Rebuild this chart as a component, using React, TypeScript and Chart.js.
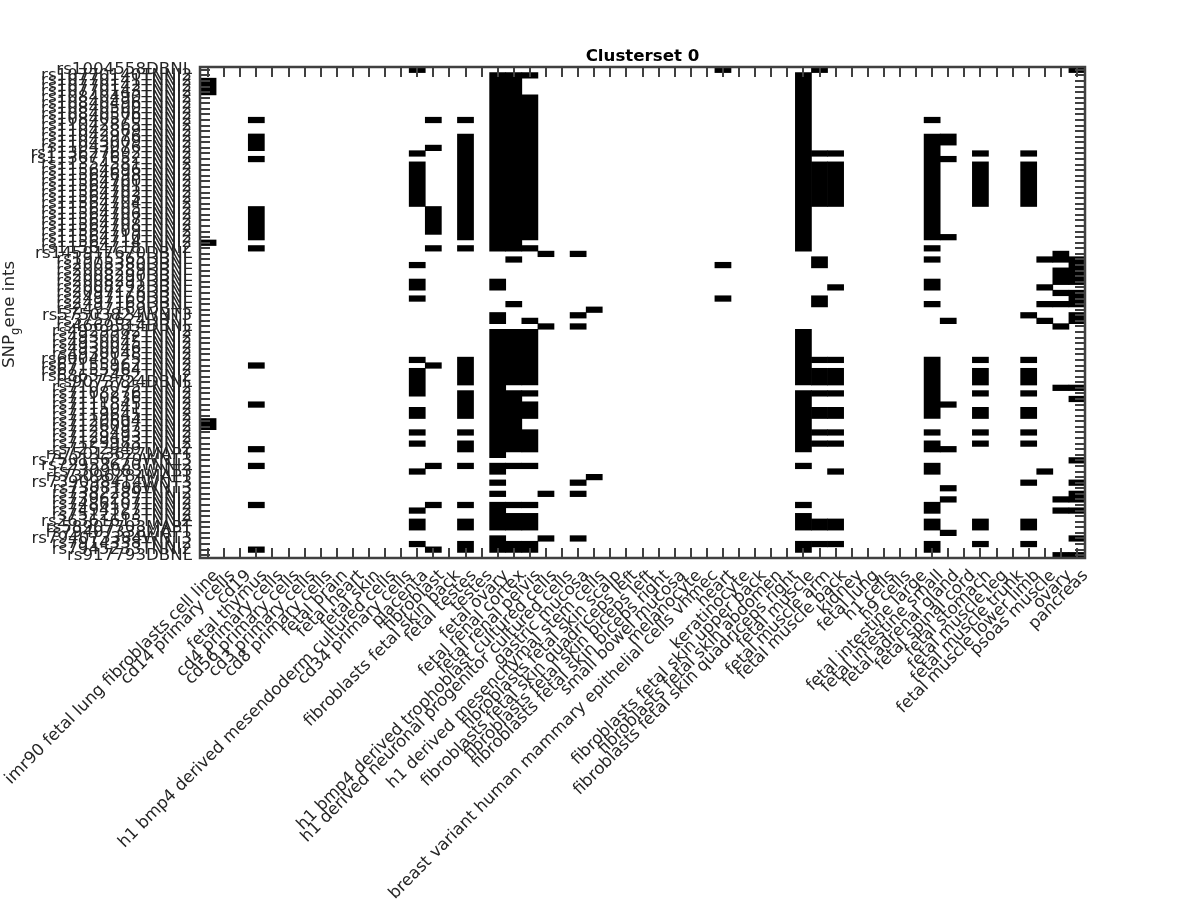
import React, { useEffect, useRef } from "react";
import { Chart, registerables } from "chart.js";

Chart.register(...registerables);

const tissues: string[] = [
  "imr90 fetal lung fibroblasts cell line", "cd14 primary cells", "cd19", "fetal thymus", "cd4 primary cells",
  "cd56 primary cells", "cd3 primary cells", "cd8 primary cells", "fetal brain", "fetal heart", "fetal skin",
  "h1 bmp4 derived mesendoderm cultured cells", "cd34 primary cells", "placenta", "fibroblast",
  "fibroblasts fetal skin back", "fetal testes", "testes", "fetal ovary", "fetal renal cortex", "fetal renal pelvis",
  "h1 bmp4 derived trophoblast cultured cells", "h1 derived neuronal progenitor cultured cells", "gastric mucosa",
  "h1 derived mesenchymal stem cells", "fibroblasts fetal skin scalp", "fibroblasts fetal skin quadriceps left",
  "fibroblasts fetal skin biceps left", "fibroblasts fetal skin biceps right", "small bowel mucosa",
  "melanocyte", "breast variant human mammary epithelial cells vhmec", "heart", "keratinocyte",
  "fibroblasts fetal skin upper back", "fibroblasts fetal skin abdomen", "fibroblasts fetal skin quadriceps right",
  "fetal muscle", "fetal muscle arm", "fetal muscle back", "kidney", "fetal lung", "h1 cells", "h9 cells",
  "fetal intestine large", "fetal intestine small", "fetal adrenal gland", "fetal spinal cord", "fetal stomach",
  "fetal muscle leg", "fetal muscle trunk", "fetal muscle lower limb", "psoas muscle", "ovary", "pancreas",
];

const snpGenes: string[] = [
  "rs1004558DBNL", "rs10770140TNNI2", "rs10770141TNNI2", "rs10770142TNNI2", "rs10770143TNNI2",
  "rs10840490TNNI2", "rs10840496TNNI2", "rs10840500TNNI2", "rs10840506TNNI2", "rs10840570TNNI2",
  "rs11042865TNNI2", "rs11042869TNNI2", "rs11042976TNNI2", "rs11043009TNNI2", "rs11043076TNNI2",
  "rs113627692TNNI2", "rs113677652TNNI2", "rs11354581TNNI2", "rs11564696TNNI2", "rs11564698TNNI2",
  "rs11564700TNNI2", "rs11564701TNNI2", "rs11564702TNNI2", "rs11564703TNNI2", "rs11564704TNNI2",
  "rs11564705TNNI2", "rs11564706TNNI2", "rs11564707TNNI2", "rs11564708TNNI2", "rs11564709TNNI2",
  "rs11564710TNNI2", "rs11564714TNNI2", "rs11564718TNNI2", "rs145917670DBNL", "rs1975365DBNL",
  "rs2005380DBNL", "rs2008289DBNL", "rs2008290DBNL", "rs2008291DBNL", "rs2008292DBNL",
  "rs2097178DBNL", "rs2497160DBNL", "rs2497163DBNL", "rs2497169DBNL", "rs57503824WNT3",
  "rs3757624DBNL", "rs4669514DBNL", "rs4929982TNNI2", "rs4930042TNNI2", "rs4930045TNNI2",
  "rs4930046TNNI2", "rs4930048TNNI2", "rs60048125TNNI2", "rs67155962TNNI2", "rs67155964TNNI2",
  "rs68657482TNNI2", "rs9073724DBNL", "rs7107095TNNI2", "rs7108276TNNI2", "rs7110836TNNI2",
  "rs7111845TNNI2", "rs7115041TNNI2", "rs7119645TNNI2", "rs7120604TNNI2", "rs7126097TNNI2",
  "rs7128493TNNI2", "rs7129493TNNI2", "rs7129983TNNI2", "rs7252949TNNI2", "rs75013627MAPT",
  "rs750136279WNT3", "rs72953620TNNI2", "rs7309083WNT3", "rs73096284MAPT", "rs739098414WNT3",
  "rs7308196WNT3", "rs7382289TNNI2", "rs7396287TNNI2", "rs7486107TNNI2", "rs7494327TNNI2",
  "rs7512163TNNI2", "rs26361615TNNI2", "rs58907703MAPT", "rs79407338MAPT", "rs794073384WNT3",
  "rs7914338TNNI2", "rs7945233TNNI2", "rs917793DBNL",
];

// For each tissue (same order as tissues), the inclusive [first, last] SNP rows that are set.
const activeRuns: number[][][] = [
  [[2, 4], [31, 31], [63, 64]], [], [],
  [[9, 9], [12, 14], [16, 16], [25, 30], [32, 32], [53, 53], [60, 60], [68, 68], [71, 71], [78, 78], [86, 86]],
  [], [], [], [], [], [], [], [], [],
  [[0, 0], [15, 15], [17, 24], [35, 35], [38, 39], [41, 41], [52, 52], [54, 58], [61, 62], [65, 65], [67, 67], [72, 72], [79, 79], [81, 82], [85, 85]],
  [[9, 9], [14, 14], [25, 29], [32, 32], [53, 53], [71, 71], [78, 78], [86, 86]],
  [],
  [[9, 9], [12, 30], [32, 32], [52, 56], [58, 62], [65, 65], [67, 68], [71, 71], [78, 78], [81, 82], [85, 86]],
  [],
  [[1, 32], [38, 39], [44, 45], [47, 69], [71, 72], [74, 74], [76, 76], [78, 82], [84, 86]],
  [[1, 32], [34, 34], [42, 42], [47, 56], [58, 68], [71, 71], [78, 78], [80, 82], [85, 86]],
  [[1, 1], [5, 30], [32, 32], [45, 45], [47, 56], [58, 58], [60, 62], [65, 68], [71, 71], [78, 78], [80, 82], [85, 86]],
  [[33, 33], [46, 46], [76, 76], [84, 84]],
  [],
  [[33, 33], [44, 44], [46, 46], [74, 74], [76, 76], [84, 84]],
  [[43, 43], [73, 73]],
  [], [], [], [], [], [], [], 
  [[0, 0], [35, 35], [41, 41]],
  [], [], [], [],
  [[1, 32], [47, 56], [58, 68], [71, 71], [78, 78], [80, 82], [85, 86]],
  [[0, 0], [15, 15], [17, 24], [34, 35], [41, 42], [52, 52], [54, 56], [58, 58], [61, 62], [65, 65], [67, 67], [81, 82], [85, 85]],
  [[15, 15], [17, 24], [39, 39], [52, 52], [54, 56], [58, 58], [61, 62], [65, 65], [67, 67], [72, 72], [81, 82], [85, 85]],
  [], [], [], [], [],
  [[9, 9], [12, 30], [32, 32], [34, 34], [38, 39], [42, 42], [52, 62], [65, 65], [67, 68], [71, 72], [78, 79], [81, 82], [85, 86]],
  [[12, 13], [16, 16], [30, 30], [45, 45], [60, 60], [68, 68], [75, 75], [77, 77], [83, 83]],
  [],
  [[15, 15], [17, 24], [52, 52], [54, 56], [58, 58], [61, 62], [65, 65], [67, 67], [81, 82], [85, 85]],
  [], [],
  [[15, 15], [17, 24], [44, 44], [52, 52], [54, 56], [58, 58], [61, 62], [65, 65], [67, 67], [74, 74], [81, 82], [85, 85]],
  [[34, 34], [39, 39], [42, 42], [45, 45], [72, 72]],
  [[33, 34], [36, 38], [40, 40], [42, 42], [46, 46], [57, 57], [77, 77], [79, 79], [87, 87]],
  [[0, 0], [34, 38], [40, 42], [44, 45], [57, 57], [59, 59], [70, 70], [74, 74], [76, 77], [79, 79], [84, 84], [87, 87]],
];

const titleText = "Clusterset 0";
const FONT = "'DejaVu Sans', sans-serif";
const TEXT = "#262626";
const AXIS = "#404040";

const framePlugin = {
  id: "frameAndTicks",
  afterDatasetsDraw(chart: any) {
    const { ctx, chartArea: a, scales } = chart;
    ctx.save();
    ctx.strokeStyle = AXIS;
    ctx.lineWidth = 2;
    tissues.forEach((_, i) => {
      const x = Math.round(scales.x.getPixelForValue(i));
      ctx.beginPath();
      ctx.moveTo(x, a.top);
      ctx.lineTo(x, a.top + 10);
      ctx.moveTo(x, a.bottom);
      ctx.lineTo(x, a.bottom - 10);
      ctx.stroke();
    });
    snpGenes.forEach((_, i) => {
      const y = Math.round(scales.y.getPixelForValue(i));
      ctx.beginPath();
      ctx.moveTo(a.left, y);
      ctx.lineTo(a.left + 10, y);
      ctx.moveTo(a.right, y);
      ctx.lineTo(a.right - 10, y);
      ctx.stroke();
    });
    ctx.lineWidth = 2.5;
    ctx.strokeRect(a.left, a.top, a.right - a.left, a.bottom - a.top);
    ctx.restore();
  },
  afterDraw(chart: any) {
    const { ctx } = chart;
    const main = `16.67px ${FONT}`;
    const sub = `11.67px ${FONT}`;
    ctx.save();
    ctx.fillStyle = TEXT;
    ctx.textBaseline = "alphabetic";
    ctx.textAlign = "left";
    ctx.translate(14, 368);
    ctx.rotate(-Math.PI / 2);
    ctx.font = main;
    ctx.fillText("SNP", 0, 0);
    let pos = ctx.measureText("SNP").width;
    ctx.font = sub;
    ctx.fillText("g", pos, 5);
    pos += ctx.measureText("g").width;
    ctx.font = main;
    ctx.fillText("ene ints", pos, 0);
    ctx.restore();
  },
};

export default function App() {
  const ref = useRef<HTMLCanvasElement>(null);
  useEffect(() => {
    const points: { x: string; y: [number, number] }[] = [];
    activeRuns.forEach((runs, c) => {
      runs.forEach(([first, last]) => {
        points.push({ x: tissues[c], y: [first - 0.5, last + 0.5] });
      });
    });
    const chart = new Chart(ref.current as HTMLCanvasElement, {
      type: "bar",
      data: {
        labels: tissues,
        datasets: [
          {
            data: points as any,
            backgroundColor: "#000000",
            borderWidth: 0,
            barPercentage: 1,
            categoryPercentage: 1,
          },
        ],
      },
      options: {
        responsive: false,
        animation: false,
        layout: { padding: { left: 0, right: 115, top: 0, bottom: 0 } },
        plugins: {
          legend: { display: false },
          tooltip: { enabled: false },
          title: {
            display: true,
            text: titleText,
            color: "#000000",
            fullSize: false,
            font: { family: FONT, size: 16.67, weight: "bold", lineHeight: 1.2 },
            padding: { top: 47, bottom: 0 },
          },
        },
        scales: {
          x: {
            type: "category",
            offset: true,
            grid: { display: false },
            border: { display: false },
            afterFit: (s: any) => {
              s.height = 342;
              s.paddingLeft = 0;
              s.paddingRight = 0;
            },
            ticks: {
              autoSkip: false,
              minRotation: 45,
              maxRotation: 45,
              labelOffset: 8.5,
              padding: 0,
              color: TEXT,
              font: { family: FONT, size: 16.67 },
            },
          },
          y: {
            type: "linear",
            reverse: true,
            min: -0.5,
            max: 87.5,
            grid: { display: false },
            border: { display: false },
            afterBuildTicks: (s: any) => {
              s.ticks = snpGenes.map((_, i) => ({ value: i }));
            },
            afterFit: (s: any) => {
              s.width = 200;
              s.paddingTop = 0;
              s.paddingBottom = 0;
            },
            ticks: {
              autoSkip: false,
              padding: 0,
              color: TEXT,
              font: { family: FONT, size: 16.67 },
              callback: (v: any) => snpGenes[Number(v)],
            },
          },
        },
      } as any,
      plugins: [framePlugin],
    });
    return () => chart.destroy();
  }, []);
  return (
    <canvas
      ref={ref}
      width={1200}
      height={900}
      style={{ position: "absolute", left: 0, top: 0, display: "block", width: 1200, height: 900 }}
    />
  );
}
